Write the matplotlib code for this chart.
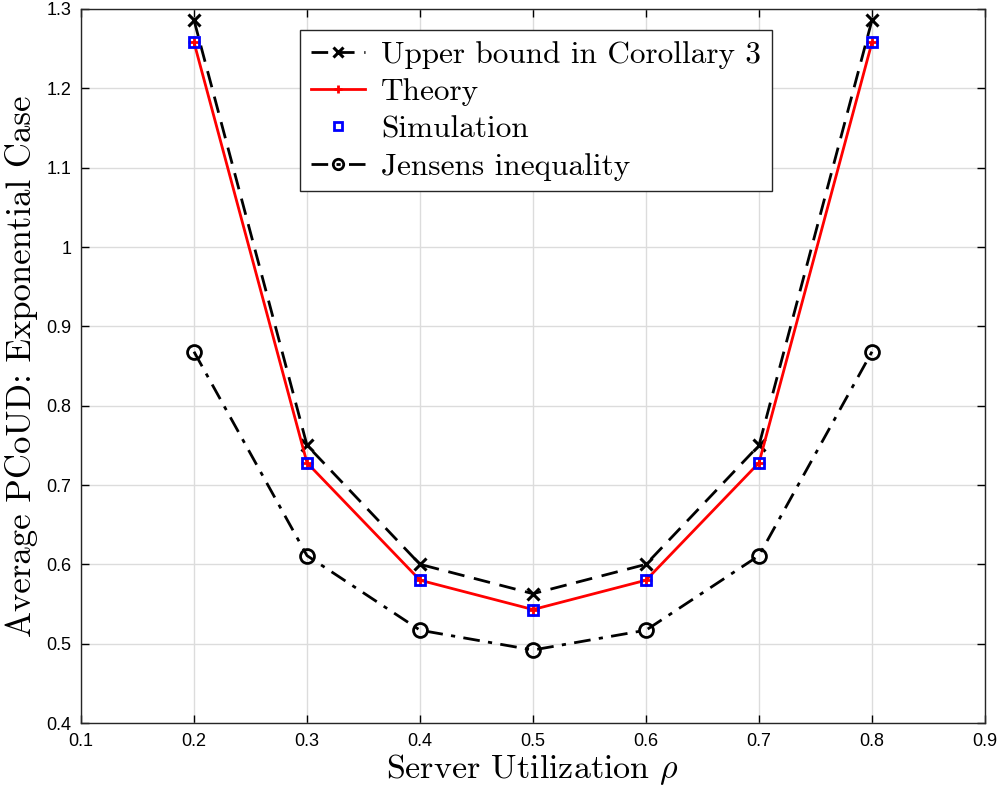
import numpy as np
import matplotlib
matplotlib.use('Agg')
import matplotlib.pyplot as plt

# data
rho = [0.2, 0.3, 0.4, 0.5, 0.6, 0.7, 0.8]
upper_bound = [1.286, 0.750, 0.600, 0.563, 0.600, 0.750, 1.286]
theory = [1.258, 0.728, 0.580, 0.543, 0.580, 0.728, 1.258]
simulation = [1.258, 0.728, 0.580, 0.543, 0.580, 0.728, 1.258]
jensen = [0.868, 0.611, 0.517, 0.492, 0.517, 0.611, 0.868]

xticks = np.arange(0.1, 0.95, 0.1)
yticks = np.arange(0.4, 1.35, 0.1)

plt.rcParams['mathtext.fontset'] = 'cm'
SERIF = 'cmr10'
TICK_FONT = 'Liberation Sans'

fig = plt.figure(figsize=(10.03, 7.96), dpi=100)
ax = fig.add_axes([81 / 1003, 1 - 723 / 796, (985 - 81) / 1003, (723 - 9) / 796])

ax.plot(rho, upper_bound, color='k', linestyle=(0, (6, 3.5)), linewidth=2,
        marker='x', markersize=9, markeredgewidth=2.2,
        label='Upper bound in Corollary 3', zorder=3)
ax.plot(rho, theory, color='#ff0000', linestyle='-', linewidth=2,
        marker='+', markersize=8, markeredgewidth=2,
        label='Theory', zorder=4)
ax.plot(rho, simulation, linestyle='none', marker='s', markersize=7,
        markerfacecolor='none', markeredgecolor='#0000ff', markeredgewidth=2,
        label='Simulation', zorder=5)
ax.plot(rho, jensen, color='k', linestyle=(0, (6, 3, 1.5, 3)), linewidth=2,
        marker='o', markersize=10, markerfacecolor='none', markeredgewidth=2,
        label='Jensens inequality', zorder=3)

ax.set_xlim(0.1, 0.9)
ax.set_ylim(0.4, 1.3)
ax.set_xticks(xticks)
ax.set_yticks(yticks)
ax.set_xticklabels(['%g' % round(v, 1) for v in xticks], fontfamily=TICK_FONT, fontsize=13)
ax.set_yticklabels(['%g' % round(v, 1) for v in yticks], fontfamily=TICK_FONT, fontsize=13)
ax.tick_params(direction='in', top=True, right=True, length=6, width=1, pad=7)

ax.grid(True, color='#dcdcdc', linewidth=1)
ax.set_axisbelow(True)
for sp in ax.spines.values():
    sp.set_color('#262626')
    sp.set_linewidth(1)

ax.set_xlabel(r'Server Utilization $\rho$', fontfamily=SERIF, fontsize=24.5, labelpad=2)
ax.set_ylabel('Average PCoUD: Exponential Case', fontfamily=SERIF, fontsize=25, labelpad=6)

leg = ax.legend(loc='upper left', bbox_to_anchor=(0.242, 0.971), borderaxespad=0,
                prop={'family': SERIF, 'size': 22.5}, handlelength=1.75,
                handletextpad=0.5, labelspacing=0.3, fancybox=False,
                framealpha=1, edgecolor='#262626', borderpad=0.35,
                markerscale=0.75)
leg.get_frame().set_linewidth(1)

fig.savefig('out.png', dpi=100)
